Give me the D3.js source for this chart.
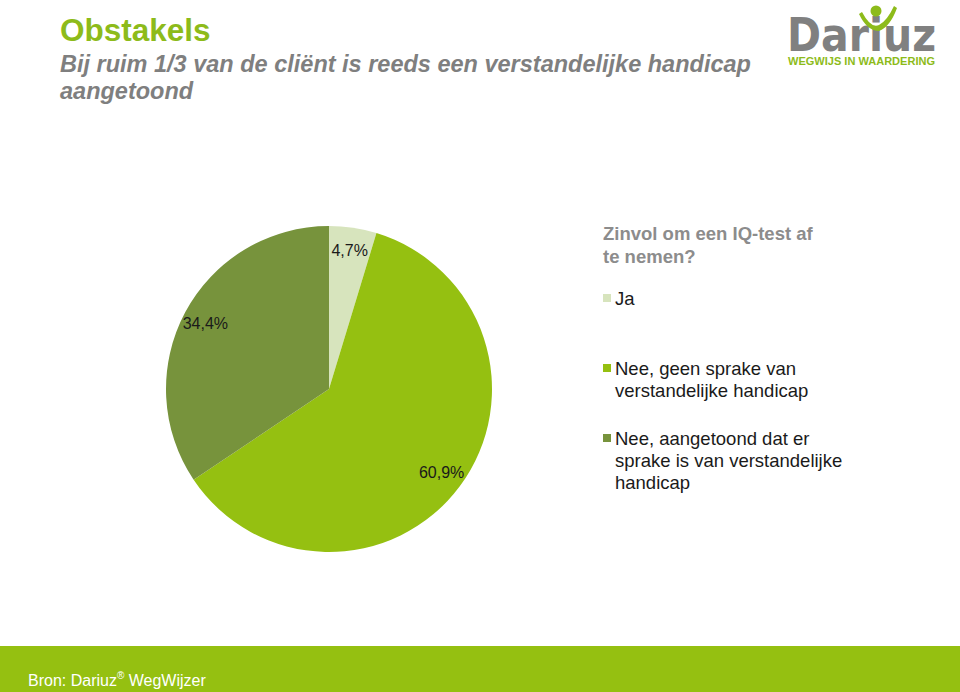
<!DOCTYPE html>
<html><head><meta charset="utf-8">
<script src="https://cdn.jsdelivr.net/npm/d3@7"></script>
<style>body{margin:0;background:#fff;}svg{display:block;font-family:"Liberation Sans",Arial,sans-serif;}</style>
</head><body>
<svg id="c" width="960" height="692"></svg>
<script>
const categories = ["Ja", "Nee, geen sprake van verstandelijke handicap", "Nee, aangetoond dat er sprake is van verstandelijke handicap"];
const values = [4.7, 60.9, 34.4];
const labels = ["4,7%", "60,9%", "34,4%"];
const legendLines = [["Ja"], ["Nee, geen sprake van", "verstandelijke handicap"], ["Nee, aangetoond dat er", "sprake is van verstandelijke", "handicap"]];
const colors = ["#d7e4bd", "#95c011", "#77933c"];

const svg = d3.select("#c");

// Title
svg.append("text").attr("x", 60).attr("y", 41).attr("fill", "#8dbb1a")
  .attr("font-size", 31.5).attr("font-weight", "bold").text("Obstakels");
svg.append("text").attr("x", 60).attr("y", 72).attr("fill", "#7f7f7f")
  .attr("font-size", 23.5).attr("font-weight", "bold").attr("font-style", "italic")
  .text("Bij ruim 1/3 van de cliënt is reeds een verstandelijke handicap");
svg.append("text").attr("x", 60).attr("y", 99).attr("fill", "#7f7f7f")
  .attr("font-size", 23.5).attr("font-weight", "bold").attr("font-style", "italic")
  .text("aangetoond");

// Logo
const logo = svg.append("g");
logo.append("text").attr("x", 787).attr("y", 51).attr("fill", "#808080")
  .attr("font-size", 46).attr("font-weight", "bold").attr("font-family", "'DejaVu Sans', sans-serif")
  .attr("textLength", 149).attr("lengthAdjust", "spacingAndGlyphs").text("Dariuz");
logo.append("path").attr("d", "M862,12 Q871,29 879,25 Q887,21 894,6 L897,8 Q890,27 879,31 Q867,31 859,14 Z").attr("fill", "#8dbb1a");
logo.append("circle").attr("cx", 876).attr("cy", 11).attr("r", 5.5).attr("fill", "#8dbb1a");
logo.append("text").attr("x", 788).attr("y", 65).attr("fill", "#8dbb1a")
  .attr("font-size", 10.5).attr("font-weight", "bold")
  .attr("textLength", 147).attr("lengthAdjust", "spacingAndGlyphs").text("WEGWIJS IN WAARDERING");

// Pie
const cx = 329, cy = 389, R = 163;
const pie = d3.pie().sort(null).value(d => d);
const arcs = pie(values);
const arc = d3.arc().innerRadius(0).outerRadius(R);
const labelArc = d3.arc().innerRadius(R * 0.86).outerRadius(R * 0.86);
const g = svg.append("g").attr("transform", `translate(${cx},${cy})`);
g.selectAll("path").data(arcs).join("path").attr("d", arc).attr("fill", (d, i) => colors[i]);
g.selectAll("text").data(arcs).join("text")
  .attr("transform", d => { const c = labelArc.centroid(d); return `translate(${c[0]},${c[1]})`; })
  .attr("text-anchor", "middle").attr("dy", "0.35em").attr("font-size", 16).attr("fill", "#1a1a1a")
  .text((d, i) => labels[i]);

// Legend
svg.append("text").attr("x", 603).attr("y", 240).attr("fill", "#8c8c8c").attr("font-size", 18.5).attr("font-weight", "bold").text("Zinvol om een IQ-test af");
svg.append("text").attr("x", 603).attr("y", 263).attr("fill", "#8c8c8c").attr("font-size", 18.5).attr("font-weight", "bold").text("te nemen?");
const legY = [305, 375, 445];
const lg = svg.append("g");
legendLines.forEach((lines, i) => {
  lg.append("rect").attr("x", 603).attr("y", legY[i] - 11).attr("width", 8).attr("height", 8).attr("fill", colors[i]);
  lines.forEach((t, j) => {
    lg.append("text").attr("x", 615).attr("y", legY[i] + j * 22).attr("font-size", 18.5).attr("fill", "#1a1a1a").text(t);
  });
});

// Footer
svg.append("rect").attr("x", 0).attr("y", 646).attr("width", 960).attr("height", 46).attr("fill", "#95c011");
const ft = svg.append("text").attr("x", 28).attr("y", 686).attr("fill", "#fff").attr("font-size", 16);
ft.append("tspan").text("Bron: Dariuz");
ft.append("tspan").attr("font-size", 10).attr("dy", -7).text("®");
ft.append("tspan").attr("dy", 7).text(" WegWijzer");
</script>
</body></html>
